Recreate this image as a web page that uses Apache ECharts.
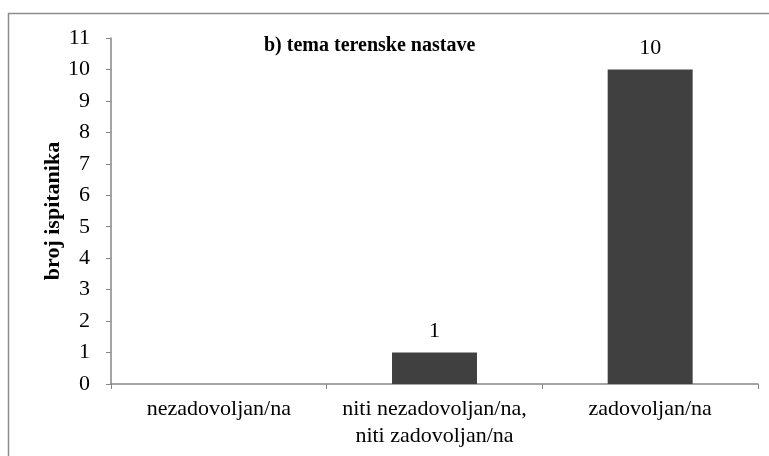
<!DOCTYPE html>
<html>
<head>
<meta charset="utf-8">
<script src="https://cdn.jsdelivr.net/npm/echarts@6/dist/echarts.min.js"></script>
<style>
  html, body { margin: 0; padding: 0; background: #fff; }
  #chart { width: 769px; height: 456px; }
</style>
</head>
<body>
<div id="chart"></div>
<script>
// podaci
const categories = ['nezadovoljan/na', 'niti nezadovoljan/na,\nniti zadovoljan/na', 'zadovoljan/na']
const values = [0, 1, 10]
const yTicks = [0, 1, 2, 3, 4, 5, 6, 7, 8, 9, 10, 11]

const font = '"Liberation Serif", "Times New Roman", serif'
const axisColor = '#868686'

let chart = echarts.init(document.getElementById('chart'))
let option = {
  backgroundColor: '#fff',
  animation: false,
  textStyle: { fontFamily: font },
  graphic: [
    {
      type: 'rect',
      shape: { x: 8.5, y: 13.5, width: 800, height: 500 },
      style: { fill: 'none', stroke: '#8c8c8c', lineWidth: 1.5 }
    }
  ],
  title: {
    text: 'b) tema terenske nastave',
    left: 259,
    top: 31,
    textStyle: { fontFamily: font, fontSize: 20, fontWeight: 'bold', color: '#000' }
  },
  grid: { left: 111, right: 11, top: 38, bottom: 72 },
  xAxis: {
    type: 'category',
    data: categories,
    axisLine: { lineStyle: { color: axisColor, width: 1.5 } },
    axisTick: { show: true, length: 5, lineStyle: { color: axisColor } },
    axisLabel: {
      fontFamily: font,
      fontSize: 22,
      color: '#000',
      lineHeight: 27,
      margin: 12,
      interval: 0
    }
  },
  yAxis: {
    type: 'value',
    min: yTicks[0],
    max: yTicks[yTicks.length - 1],
    interval: 1,
    name: 'broj ispitanika',
    nameLocation: 'middle',
    nameGap: 47,
    nameMoveOverlap: false,
    nameTextStyle: { fontFamily: font, fontSize: 22, fontWeight: 'bold', color: '#000' },
    splitLine: { show: false },
    axisLine: { show: true, lineStyle: { color: axisColor, width: 1.5 } },
    axisTick: { show: true, length: 5, lineStyle: { color: axisColor } },
    axisLabel: { fontFamily: font, fontSize: 22, color: '#000', margin: 21 }
  },
  series: [
    {
      type: 'bar',
      data: values,
      barWidth: '39.4%',
      itemStyle: { color: '#404040' },
      label: {
        show: true,
        position: 'top',
        distance: 10,
        fontFamily: font,
        fontSize: 22,
        color: '#000',
        formatter: p => (p.value === 0 ? '' : String(p.value))
      }
    }
  ]
}
chart.setOption(option)
</script>
</body>
</html>
